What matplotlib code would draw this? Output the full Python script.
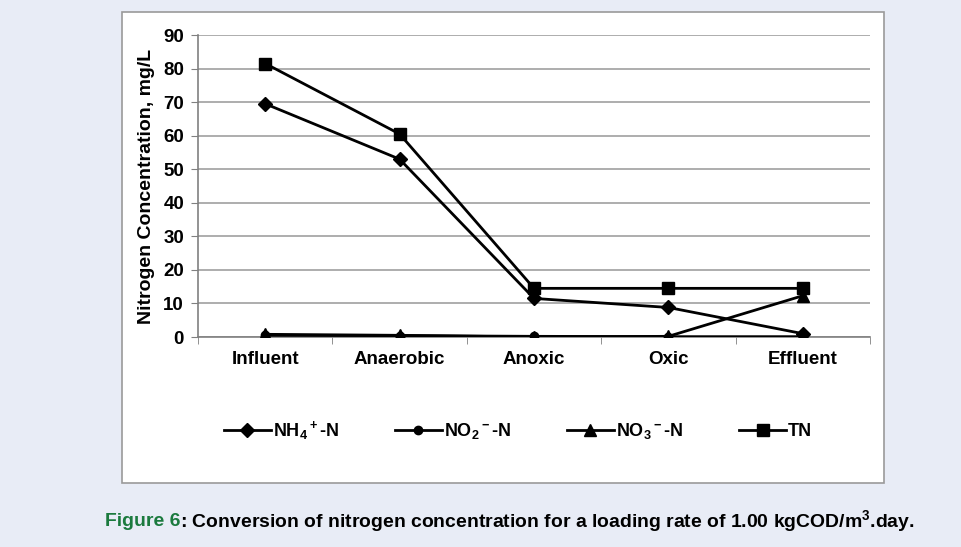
import matplotlib.pyplot as plt
from matplotlib.patches import Rectangle

stages = ["Influent", "Anaerobic", "Anoxic", "Oxic", "Effluent"]
nh4 = [69.5, 53.0, 11.5, 8.8, 1.0]
no2 = [0.5, 0.4, 0.2, 0.1, 0.1]
no3 = [0.8, 0.5, 0.0, 0.2, 12.3]
tn = [81.5, 60.5, 14.5, 14.5, 14.5]
yticks = list(range(0, 100, 10))

plt.rcParams['font.family'] = ['Liberation Sans', 'DejaVu Sans']
plt.rcParams['mathtext.fontset'] = 'custom'
plt.rcParams['mathtext.rm'] = 'Liberation Sans:bold'
plt.rcParams['mathtext.default'] = 'rm'

fig = plt.figure(figsize=(9.62, 5.47), dpi=100)
fig.patch.set_facecolor('#e8ecf6')

# white chart panel behind the axes
bg = fig.add_axes([0, 0, 1, 1], zorder=0)
bg.set_axis_off()
bg.set_xlim(0, 962)
bg.set_ylim(547, 0)
bg.add_patch(Rectangle((122, 12), 762, 471, facecolor='white',
                       edgecolor='#9a9a9a', linewidth=1.2))

ax = fig.add_axes([198 / 962, 1 - 337 / 547, 672 / 962, 302 / 547], zorder=1)
ax.set_facecolor('white')
x = list(range(len(stages)))

ax.plot(x, nh4, color='black', lw=2, marker='D', ms=7, label=r'NH$_4$$^+$-N', zorder=3)
ax.plot(x, no2, color='black', lw=2, marker='o', ms=6, label=r'NO$_2$$^-$-N', zorder=3)
ax.plot(x, no3, color='black', lw=2, marker='^', ms=8, label=r'NO$_3$$^-$-N', zorder=3)
ax.plot(x, tn, color='black', lw=2, marker='s', ms=8, label='TN', zorder=3)

ax.set_xlim(-0.5, len(stages) - 0.5)
ax.set_ylim(0, 90)
ax.set_yticks(yticks)
ax.set_yticklabels([str(v) for v in yticks], fontsize=13.5, fontweight='bold')
ax.set_xticks(x)
ax.set_xticklabels(stages, fontsize=13.5, fontweight='bold')
ax.set_xticks([v - 0.5 for v in range(len(stages) + 1)], minor=True)
ax.tick_params(axis='x', which='major', length=0, pad=10)
ax.tick_params(axis='x', which='minor', length=5, color='#808080', direction='out')
ax.tick_params(axis='y', length=5, color='#808080', pad=5)
ax.grid(axis='y', color='#a0a0a0', lw=1.2)
ax.set_axisbelow(True)
for side in ['top', 'right']:
    ax.spines[side].set_visible(False)
for side in ['left', 'bottom']:
    ax.spines[side].set_color('#808080')
    ax.spines[side].set_linewidth(1.2)
ax.set_ylabel('Nitrogen Concentration, mg/L', fontsize=14, fontweight='bold', labelpad=6)

ax.legend(loc='center', bbox_to_anchor=(0.476, -0.31), ncol=4, frameon=False,
          prop={'weight': 'bold', 'size': 13}, columnspacing=3.1,
          handlelength=2.6, handletextpad=0.1)

# caption: fit to the reference width (~105 to 915 px)
cap_y = 1 - 521 / 547
cap_size = 15
t1 = fig.text(105 / 962, cap_y, 'Figure 6', color='#1b7a3e', fontsize=cap_size,
              fontweight='bold', va='center')
t2 = fig.text(0, cap_y,
              ': Conversion of nitrogen concentration for a loading rate of 1.00 kgCOD/m$^3$.day.',
              color='black', fontsize=cap_size, fontweight='bold', va='center')
r = fig.canvas.get_renderer()
w = t1.get_window_extent(r).width + t2.get_window_extent(r).width
cap_size = cap_size * 810 / w
t1.set_fontsize(cap_size)
t2.set_fontsize(cap_size)
w1 = t1.get_window_extent(r).width
t2.set_x((105 + w1) / 962)

fig.savefig('out.png', dpi=100, facecolor=fig.get_facecolor())
